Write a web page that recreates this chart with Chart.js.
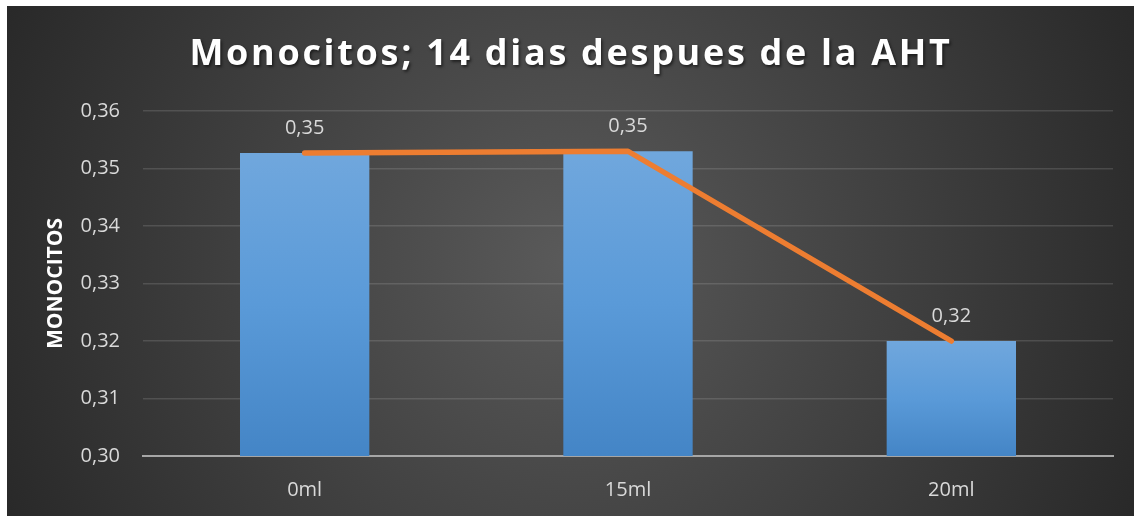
<!DOCTYPE html>
<html>
<head>
<meta charset="utf-8">
<script src="https://cdn.jsdelivr.net/npm/chart.js@4.4.1/dist/chart.umd.min.js"></script>
<style>
  html, body { margin: 0; padding: 0; background: #ffffff; }
  #wrap { position: absolute; left: 7px; top: 6px; width: 1127px; height: 510px; }
</style>
</head>
<body>
<div id="wrap"><canvas id="c"></canvas></div>
<script>
const categories = ['0ml', '15ml', '20ml'];
const monocitos = [0.3527, 0.3530, 0.3200];
const chartTitle = 'Monocitos; 14 dias despues de la AHT';
const yAxisTitle = 'MONOCITOS';
const yMin = 0.30, yMax = 0.36, yStep = 0.01;

const fmt = v => Number(v).toFixed(2).replace('.', ',');

const bgPlugin = {
  id: 'bg',
  beforeDraw(chart) {
    const ctx = chart.ctx, w = chart.width, h = chart.height;
    ctx.save();
    const g = ctx.createRadialGradient(w * 0.5, h * 0.5, 0, w * 0.5, h * 0.5, w * 0.58);
    g.addColorStop(0, '#5a5a5a');
    g.addColorStop(1, '#262626');
    ctx.fillStyle = g;
    ctx.fillRect(0, 0, w, h);
    ctx.restore();
  }
};

// Letter-spaced, shadowed title (still drawn by Chart.js's own title block)
const titleStylePlugin = {
  id: 'titleStyle',
  afterLayout(chart) {
    const tb = chart.titleBlock;
    if (!tb || tb._styled) return;
    const orig = tb.draw.bind(tb);
    tb.draw = function (area) {
      const ctx = chart.ctx;
      ctx.save();
      ctx.translate(11, 0);
      ctx.letterSpacing = '2.7px';
      ctx.shadowColor = 'rgba(0,0,0,0.55)';
      ctx.shadowBlur = 3;
      ctx.shadowOffsetX = 1.5;
      ctx.shadowOffsetY = 1.5;
      orig(area);
      ctx.restore();
    };
    tb._styled = true;
  }
};

const labelPlugin = {
  id: 'valueLabels',
  afterDatasetsDraw(chart) {
    const ctx = chart.ctx;
    const meta = chart.getDatasetMeta(1);
    ctx.save();
    ctx.font = '20px "Open Sans"';
    ctx.fillStyle = '#d9d9d9';
    ctx.textAlign = 'center';
    ctx.textBaseline = 'middle';
    meta.data.forEach((el, i) => {
      ctx.fillText(fmt(chart.data.datasets[1].data[i]), el.x, el.y - 25);
    });
    ctx.restore();
  }
};

function barGradient(context) {
  const chart = context.chart;
  const ca = chart.chartArea;
  if (!ca || context.parsed === undefined) return '#5b9bd5';
  const y = chart.scales.y;
  const top = y.getPixelForValue(context.parsed.y);
  const base = y.getPixelForValue(yMin);
  if (!isFinite(top) || !isFinite(base) || top === base) return '#5b9bd5';
  const g = chart.ctx.createLinearGradient(0, top, 0, base);
  g.addColorStop(0, '#70a7dd');
  g.addColorStop(0.5, '#5a9ad8');
  g.addColorStop(1, '#4485c6');
  return g;
}

new Chart(document.getElementById('c'), {
  data: {
    labels: categories,
    datasets: [
      {
        type: 'line',
        data: monocitos,
        borderColor: '#ed7d31',
        borderWidth: 5.5,
        borderCapStyle: 'round',
        borderJoinStyle: 'round',
        pointRadius: 0,
        pointHoverRadius: 0,
        tension: 0,
        order: 0
      },
      {
        type: 'bar',
        data: monocitos,
        backgroundColor: barGradient,
        borderWidth: 0,
        categoryPercentage: 1,
        barPercentage: 0.4,
        order: 1
      }
    ]
  },
  options: {
    responsive: true,
    maintainAspectRatio: false,
    animation: false,
    layout: { padding: { left: 0, right: 21, top: 0, bottom: 14 } },
    plugins: {
      legend: { display: false },
      tooltip: { enabled: false },
      title: {
        display: true,
        text: chartTitle,
        color: '#ffffff',
        font: { family: '"Open Sans"', size: 36, weight: 'bold', lineHeight: 1.2 },
        padding: { top: 27.4, bottom: 34.4 }
      }
    },
    scales: {
      x: {
        grid: { display: false, drawTicks: false },
        border: { display: true, color: '#a6a6a6', width: 2 },
        ticks: { color: '#d9d9d9', padding: 22, font: { family: '"Open Sans"', size: 20 } },
        afterFit(scale) { scale.height = 46; }
      },
      y: {
        min: yMin,
        max: yMax,
        grid: { color: 'rgba(217,217,217,0.16)', lineWidth: 1.5, drawTicks: false },
        border: { display: false },
        ticks: {
          stepSize: yStep,
          color: '#d9d9d9',
          padding: 23,
          font: { family: '"Open Sans"', size: 20 },
          callback: v => fmt(v)
        },
        title: {
          display: true,
          text: yAxisTitle,
          color: '#ffffff',
          font: { family: '"Open Sans"', size: 21, weight: 'bold', lineHeight: 1.2 },
          padding: { top: 36, bottom: 0 }
        },
        afterFit(scale) { scale.width = 136; }
      }
    }
  },
  plugins: [bgPlugin, titleStylePlugin, labelPlugin]
});
</script>
</body>
</html>
